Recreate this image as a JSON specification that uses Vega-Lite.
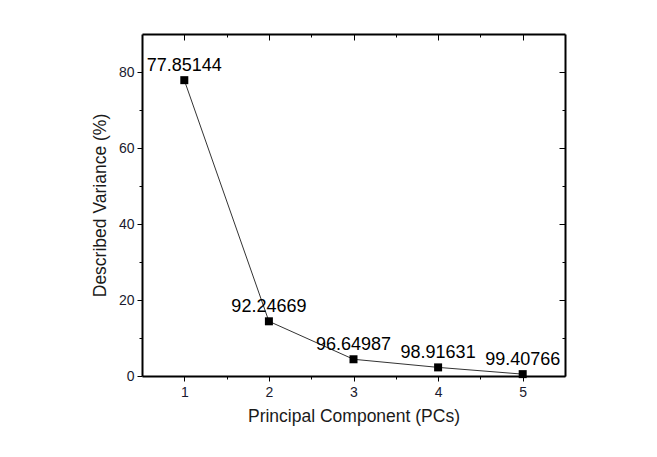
{
  "$schema": "https://vega.github.io/schema/vega-lite/v6.json",
  "width": 423,
  "height": 342,
  "autosize": "none",
  "padding": {"left": 142, "top": 34, "right": 92, "bottom": 81},
  "background": "white",
  "config": {"view": {"stroke": null}, "font": "Liberation Sans"},
  "data": {"values": [
    {"pc": 1, "variance": 77.85144, "label": "77.85144"},
    {"pc": 2, "variance": 14.39525, "label": "92.24669"},
    {"pc": 3, "variance": 4.40318, "label": "96.64987"},
    {"pc": 4, "variance": 2.26644, "label": "98.91631"},
    {"pc": 5, "variance": 0.49135, "label": "99.40766"}
  ]},
  "resolve": {"axis": {"x": "independent", "y": "independent"}},
  "layer": [
    {
      "mark": {"type": "line", "color": "#333333", "strokeWidth": 1},
      "encoding": {
        "x": {"field": "pc", "type": "quantitative", "scale": {"domain": [0.5, 5.5], "nice": false, "zero": false},
          "axis": {"orient": "bottom", "values": [1, 2, 3, 4, 5], "format": "d", "title": "Principal Component (PCs)",
            "domainColor": "black", "domainWidth": 2, "tickColor": "black", "tickSize": 5, "tickWidth": 1,
            "labelFontSize": 14, "labelColor": "#1a1a2e", "labelPadding": 4, "titleFontSize": 17.5, "titleFontWeight": "normal",
            "titleColor": "#1a1a1a", "titlePadding": 8, "grid": false}},
        "y": {"field": "variance", "type": "quantitative", "scale": {"domain": [0, 90], "nice": false},
          "axis": {"orient": "left", "values": [0, 20, 40, 60, 80], "title": "Described Variance (%)",
            "domainColor": "black", "domainWidth": 2, "tickColor": "black", "tickSize": 5, "tickWidth": 1,
            "labelFontSize": 14, "labelColor": "#1a1a2e", "labelPadding": 3, "titleFontSize": 17.5, "titleFontWeight": "normal",
            "titleColor": "#1a1a1a", "titlePadding": 9, "grid": false}}
      }
    },
    {
      "mark": {"type": "point", "shape": "square", "filled": true, "color": "black", "size": 64, "opacity": 1},
      "encoding": {
        "x": {"field": "pc", "type": "quantitative", "scale": {"domain": [0.5, 5.5], "nice": false, "zero": false},
          "axis": {"orient": "top", "values": [1, 2, 3, 4, 5], "labels": false, "title": null,
            "domainColor": "black", "domainWidth": 2, "tickColor": "black", "tickSize": -6, "tickWidth": 1, "grid": false}},
        "y": {"field": "variance", "type": "quantitative", "scale": {"domain": [0, 90], "nice": false},
          "axis": {"orient": "right", "values": [0, 20, 40, 60, 80], "labels": false, "title": null,
            "domainColor": "black", "domainWidth": 2, "tickColor": "black", "tickSize": -6, "tickWidth": 1, "grid": false}}
      }
    },
    {
      "mark": {"type": "text", "fontSize": 18, "color": "black", "baseline": "alphabetic", "align": "center", "dy": -9},
      "encoding": {
        "text": {"field": "label"},
        "x": {"field": "pc", "type": "quantitative", "scale": {"domain": [0.5, 5.5], "nice": false, "zero": false},
          "axis": {"orient": "bottom", "values": [1.5, 2.5, 3.5, 4.5], "labels": false, "title": null, "domain": false,
            "tickColor": "black", "tickSize": 3, "tickWidth": 1, "grid": false}},
        "y": {"field": "variance", "type": "quantitative", "scale": {"domain": [0, 90], "nice": false},
          "axis": {"orient": "left", "values": [10, 30, 50, 70], "labels": false, "title": null, "domain": false,
            "tickColor": "black", "tickSize": 3, "tickWidth": 1, "grid": false}}
      }
    },
    {
      "mark": {"type": "point", "opacity": 0},
      "encoding": {
        "x": {"field": "pc", "type": "quantitative", "scale": {"domain": [0.5, 5.5], "nice": false, "zero": false},
          "axis": {"orient": "top", "values": [1.5, 2.5, 3.5, 4.5], "labels": false, "title": null, "domain": false,
            "tickColor": "black", "tickSize": -3, "tickWidth": 1, "grid": false}},
        "y": {"field": "variance", "type": "quantitative", "scale": {"domain": [0, 90], "nice": false},
          "axis": {"orient": "right", "values": [10, 30, 50, 70], "labels": false, "title": null, "domain": false,
            "tickColor": "black", "tickSize": -3, "tickWidth": 1, "grid": false}}
      }
    }
  ]
}
